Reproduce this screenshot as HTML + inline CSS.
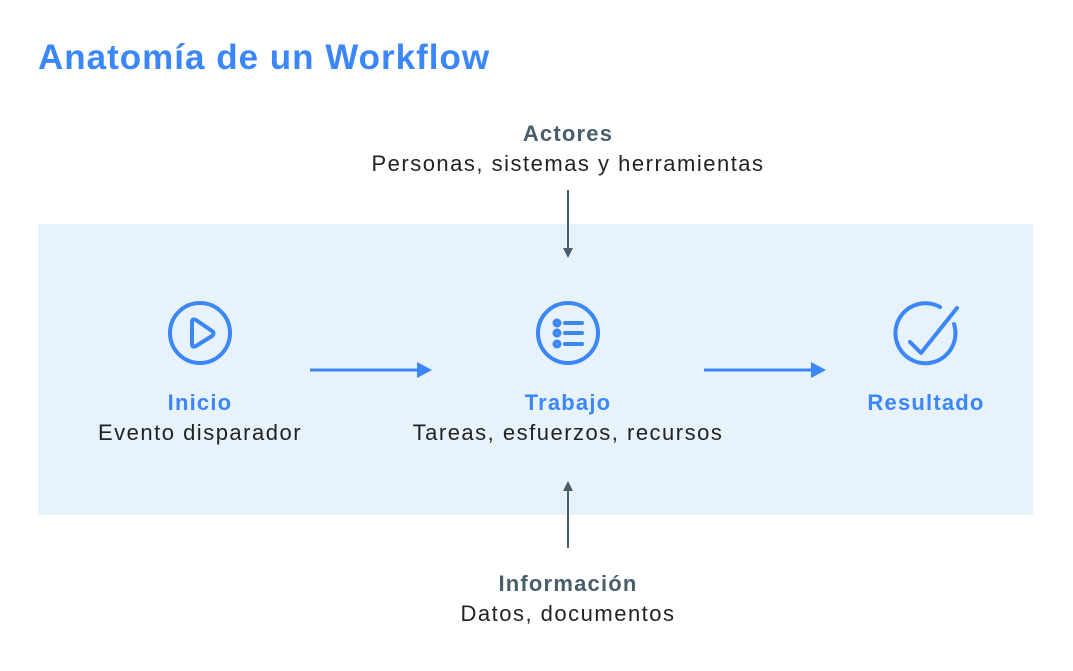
<!DOCTYPE html>
<html><head><meta charset="utf-8"><style>
body{margin:0;width:1073px;height:671px;background:#fff;font-family:"Liberation Sans",sans-serif;position:relative;overflow:hidden}
.t{position:absolute;white-space:nowrap;text-align:center;transform:translateX(-50%)}
.b{font-weight:bold;color:#3c87f7;font-size:22px;letter-spacing:1.2px}
.g{font-weight:bold;color:#4a5d6a;font-size:22px;letter-spacing:1.2px}
.n{color:#222;font-size:22px;letter-spacing:1.5px}
</style></head><body>
<div style="position:absolute;left:38px;top:38px;font-size:35px;font-weight:bold;color:#3c87f7;letter-spacing:1px">Anatomía de un Workflow</div>
<div style="position:absolute;left:38px;top:224px;width:995px;height:291px;background:#e8f2fb"></div>
<div class="t g" style="left:568px;top:121px">Actores</div>
<div class="t n" style="left:568px;top:151px">Personas, sistemas y herramientas</div>
<div class="t b" style="left:200px;top:390px">Inicio</div>
<div class="t n" style="left:200px;top:420px">Evento disparador</div>
<div class="t b" style="left:568px;top:390px">Trabajo</div>
<div class="t n" style="left:568px;top:420px">Tareas, esfuerzos, recursos</div>
<div class="t b" style="left:926px;top:390px">Resultado</div>
<div class="t g" style="left:568px;top:571px">Información</div>
<div class="t n" style="left:568px;top:601px">Datos, documentos</div>
<svg width="1073" height="671" style="position:absolute;left:0;top:0">
<g fill="none" stroke="#3c87f7" stroke-width="4" stroke-linecap="round" stroke-linejoin="round">
<circle cx="200" cy="333" r="30"/>
<path d="M192 322 L192 344 Q192 348 196 346 L212 336 Q215 333 212 331 L196 320 Q192 318 192 322Z"/>
<circle cx="568" cy="333" r="30"/>
<circle cx="557" cy="323" r="2.5"/><circle cx="557" cy="333" r="2.5"/><circle cx="557" cy="344" r="2.5"/>
<path d="M565 323H582M565 333H582M565 344H582"/>
<path d="M954 324 A30 30 0 1 1 940 307"/>
<path d="M910 342 L921 353 L957 308"/>
</g>
<g stroke="#3c87f7" stroke-width="3" fill="#3c87f7">
<line x1="310" y1="370" x2="418" y2="370"/><path d="M417 362 L432 370 L417 378Z" stroke="none"/>
<line x1="704" y1="370" x2="812" y2="370"/><path d="M811 362 L826 370 L811 378Z" stroke="none"/>
</g>
<g stroke="#4a5d6a" stroke-width="2" fill="#4a5d6a">
<line x1="568" y1="190" x2="568" y2="250"/><path d="M563 248 L568 258 L573 248Z" stroke="none"/>
<line x1="568" y1="548" x2="568" y2="490"/><path d="M563 491 L568 481 L573 491Z" stroke="none"/>
</g>
</svg>
</body></html>
